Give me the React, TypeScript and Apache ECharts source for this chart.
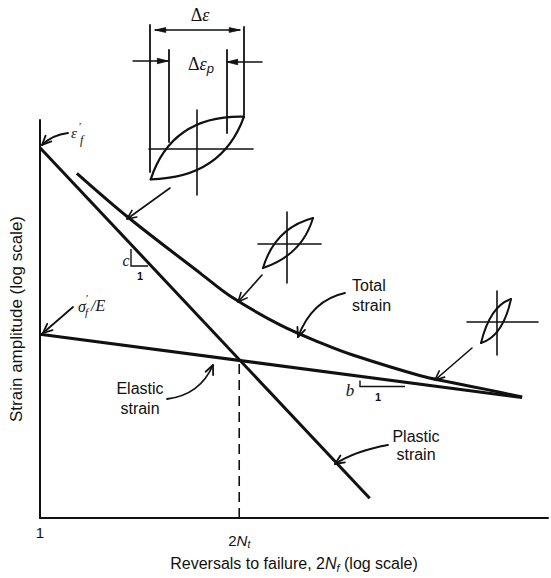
import React, { useEffect, useRef } from 'react';
import * as echarts from 'echarts';

// Coordinates: x = log(2N) in arbitrary decades from the origin "1"; y = log(strain amplitude) in arbitrary decades
const xTickValues = [0, 2];
const xTickLabels = ['1', '2N_t'];
const plasticX = [0, 3.31];
const plasticY = [3.75, 0.2];
const elasticX = [0, 4.84];
const elasticY = [1.86, 1.22];
const totalX = [0.37, 0.89, 1.62, 1.92, 2.42, 2.85, 3.14, 3.82, 4.12, 4.49, 4.84];
const totalY = [3.49, 3.04, 2.47, 2.24, 1.95, 1.76, 1.65, 1.44, 1.375, 1.3, 1.225];
const transitionX = [2.0, 2.0];
const transitionY = [0, 1.594];

const SANS = '"Liberation Sans", Arial, Helvetica, sans-serif';
const SERIF = '"Liberation Serif", "DejaVu Serif", serif';
const K = '#111';

function seg(x1: number, y1: number, x2: number, y2: number, w = 1.6): any {
  return { type: 'line', silent: true, shape: { x1, y1, x2, y2 }, style: { stroke: K, lineWidth: w, lineCap: 'round' } };
}
function head(tx: number, ty: number, fx: number, fy: number, len = 9, sp = 0.42, w = 1.6, filled = false): any {
  const a = Math.atan2(fy - ty, fx - tx);
  const p1 = [tx + len * Math.cos(a + sp), ty + len * Math.sin(a + sp)];
  const p2 = [tx + len * Math.cos(a - sp), ty + len * Math.sin(a - sp)];
  if (filled) {
    return { type: 'polygon', silent: true, shape: { points: [p1, [tx, ty], p2] }, style: { fill: K, stroke: K, lineWidth: 0.8 } };
  }
  return { type: 'polyline', silent: true, shape: { points: [p1, [tx, ty], p2] }, style: { stroke: K, lineWidth: w, fill: null, lineJoin: 'round', lineCap: 'round' } };
}
function arrow(fx: number, fy: number, tx: number, ty: number, w = 1.6, len = 9, sp = 0.42, filled = false): any[] {
  return [seg(fx, fy, tx, ty, w), head(tx, ty, fx, fy, len, sp, w, filled)];
}
function curve(x1: number, y1: number, cx: number, cy: number, x2: number, y2: number, w = 2): any {
  return { type: 'bezierCurve', silent: true, shape: { x1, y1, x2, y2, cpx1: cx, cpy1: cy }, style: { stroke: K, lineWidth: w, fill: null, lineCap: 'round' } };
}
function curvedArrow(x1: number, y1: number, cx: number, cy: number, x2: number, y2: number, w = 1.8): any[] {
  return [curve(x1, y1, cx, cy, x2, y2, w), head(x2, y2, cx, cy, 10, 0.42, w)];
}
function txt(x: number, y: number, text: string, o: any = {}): any {
  return {
    type: 'text', silent: true, x, y,
    style: {
      text, fill: K,
      fontFamily: o.fontFamily || SANS,
      fontSize: o.fontSize || 16,
      fontStyle: o.fontStyle || 'normal',
      fontWeight: o.fontWeight || 'normal',
      align: o.align || 'left',
      verticalAlign: o.verticalAlign || 'middle',
      lineHeight: o.lineHeight,
      rich: o.rich,
    },
  };
}

function buildGraphics(): any[] {
  const g: any[] = [];
  // ---- top hysteresis loop with Δε and Δεp dimensions
  g.push(seg(150, 25, 150, 172, 1.8));
  g.push(seg(244, 27, 244, 115, 1.8));
  g.push(seg(169, 50, 169, 142, 1.8));
  g.push(seg(227, 50, 227, 133, 1.8));
  g.push(seg(155, 30, 240, 30, 1.3));
  g.push(head(155, 30, 240, 30, 11, 0.22, 1.3, true));
  g.push(head(240, 30, 155, 30, 11, 0.22, 1.3, true));
  g.push(...arrow(133, 61, 168, 61, 1.4, 11, 0.25, true));
  g.push(...arrow(262, 62, 227, 62, 1.4, 11, 0.25, true));
  g.push(seg(149, 149, 253, 149, 1.6));
  g.push(seg(197, 110, 197, 195, 1.6));
  g.push(curve(150.7, 179.3, 172, 115, 244, 116.7, 2.2));
  g.push(curve(150.7, 179.3, 222, 178, 244, 116.7, 2.2));
  g.push(txt(200, 15, '{d|Δ}{e|ε}', { align: 'center', rich: {
    d: { fontFamily: SERIF, fontSize: 18, fill: K },
    e: { fontFamily: SERIF, fontSize: 18, fontStyle: 'italic', fill: K },
  } }));
  g.push(txt(188, 64, '{d|Δ}{e|ε}{p|p}', { align: 'left', rich: {
    d: { fontFamily: SERIF, fontSize: 18, fill: K },
    e: { fontFamily: SERIF, fontSize: 18, fontStyle: 'italic', fill: K },
    p: { fontFamily: SANS, fontSize: 13, fontStyle: 'italic', fill: K, padding: [9, 0, 0, 0] },
  } }));
  g.push(...arrow(170, 188, 127, 219, 1.6, 10, 0.42));

  // ---- middle loop
  g.push(seg(258, 244, 321, 244, 1.6));
  g.push(seg(287, 212, 287, 283, 1.6));
  g.push(curve(263, 268, 275, 228, 313, 218, 2));
  g.push(curve(263, 268, 302, 255, 313, 218, 2));
  g.push(...arrow(262, 275, 238, 302, 1.6, 10, 0.42));

  // ---- right loop
  g.push(seg(467, 322, 538, 322, 1.6));
  g.push(seg(497, 291, 497, 355, 1.6));
  g.push(curve(481, 343, 490, 306, 511, 299, 2));
  g.push(curve(481, 343, 503, 336, 511, 299, 2));
  g.push(...arrow(472, 348, 435, 380, 1.6, 10, 0.42));

  // ---- Labels with arrows
  g.push(txt(352, 295, 'Total\nstrain', { lineHeight: 20 }));
  g.push(...curvedArrow(345, 293, 312, 300, 298, 337));
  g.push(txt(140, 398, 'Elastic\nstrain', { align: 'center', lineHeight: 20 }));
  g.push(...curvedArrow(167, 399, 200, 395, 213, 365));
  g.push(txt(416, 445, 'Plastic\nstrain', { align: 'center', lineHeight: 18 }));
  g.push(...curvedArrow(388, 445, 355, 451, 335, 464));

  // ε'f
  g.push(...curvedArrow(68, 133, 52, 135, 42, 145));
  g.push(txt(71, 133, 'ε', { fontFamily: SERIF, fontSize: 15, fontStyle: 'italic' }));
  g.push(txt(79, 126, '′', { fontFamily: SERIF, fontSize: 11 }));
  g.push(txt(80, 140, 'f', { fontFamily: SERIF, fontSize: 12, fontStyle: 'italic' }));
  // σ'f/E
  g.push(...arrow(73, 307, 43, 333, 1.8, 10, 0.42));
  g.push(txt(78, 306, 'σ', { fontFamily: SERIF, fontSize: 16, fontStyle: 'italic' }));
  g.push(txt(86, 298, '′', { fontFamily: SERIF, fontSize: 11 }));
  g.push(txt(85, 312, 'f', { fontFamily: SERIF, fontSize: 11, fontStyle: 'italic' }));
  g.push(txt(91, 305, '/E', { fontFamily: SERIF, fontSize: 16, fontStyle: 'italic' }));

  // slope triangles
  g.push({ type: 'polyline', silent: true, shape: { points: [[131, 249], [131, 266], [148, 266]] }, style: { stroke: K, lineWidth: 1.4, fill: null } });
  g.push(txt(126, 260, 'c', { fontFamily: SERIF, fontSize: 16, fontStyle: 'italic', align: 'center' }));
  g.push(txt(140, 276, '1', { fontSize: 11, fontWeight: 'bold', align: 'center' }));
  g.push({ type: 'polyline', silent: true, shape: { points: [[360, 380.5], [360, 386.5], [405, 386.5]] }, style: { stroke: K, lineWidth: 1.4, fill: null } });
  g.push(txt(350, 390, 'b', { fontFamily: SERIF, fontSize: 17, fontStyle: 'italic', align: 'center' }));
  g.push(txt(378, 397, '1', { fontSize: 11, fontWeight: 'bold', align: 'center' }));
  return g;
}

export default function App() {
  const ref = useRef<HTMLDivElement>(null);
  useEffect(() => {
    if (!ref.current) return;
    const chart = echarts.init(ref.current, null, { renderer: 'svg' });
    const pair = (xs: number[], ys: number[]) => xs.map((x, i) => [x, ys[i]]);
    const lineCommon = { type: 'line', symbol: 'none', silent: true, z: 3 };
    chart.setOption({
      animation: false,
      backgroundColor: '#ffffff',
      grid: { left: 38, top: 120, width: 510, height: 403, containLabel: false },
      xAxis: {
        type: 'value', min: 0, max: 5.1, interval: 1,
        axisLine: { show: true, onZero: false, lineStyle: { color: K, width: 2 } },
        axisTick: { show: false },
        splitLine: { show: false },
        axisLabel: {
          margin: 7, showMinLabel: true, showMaxLabel: false, color: K,
          fontFamily: SANS, fontSize: 15,
          formatter: (v: number) => {
            const i = xTickValues.indexOf(v);
            if (i < 0) return '';
            const s = xTickLabels[i];
            if (s.includes('_')) {
              const [a, b] = s.split('_');
              return '{sp| }\n{n|' + a.slice(0, -1) + '}{i|' + a.slice(-1) + '}{s|' + b + '}';
            }
            return '{n|' + s + '}';
          },
          rich: {
            sp: { fontSize: 2, lineHeight: 7 },
            n: { fontFamily: SANS, fontSize: 15, color: K },
            i: { fontFamily: SANS, fontSize: 15, fontStyle: 'italic', color: K },
            s: { fontFamily: SANS, fontSize: 10, fontStyle: 'italic', color: K, padding: [7, 0, 0, 0] },
          },
        },
        name: 'Reversals to failure, 2{i|N}{s|f} (log scale)',
        nameLocation: 'middle', nameGap: 36,
        nameTextStyle: {
          fontFamily: SANS, fontSize: 16, color: K,
          rich: {
            i: { fontFamily: SANS, fontSize: 16, fontStyle: 'italic', color: K },
            s: { fontFamily: SANS, fontSize: 11, fontStyle: 'italic', color: K, padding: [8, 0, 0, 0] },
          },
        },
      },
      yAxis: {
        type: 'value', min: 0, max: 4.03,
        axisLine: { show: true, onZero: false, lineStyle: { color: K, width: 2 } },
        axisTick: { show: false },
        axisLabel: { show: false },
        splitLine: { show: false },
        name: 'Strain amplitude (log scale)',
        nameLocation: 'middle', nameRotate: 90, nameGap: 15,
        nameTextStyle: { fontFamily: SANS, fontSize: 17, color: K },
      },
      graphic: buildGraphics(),
      series: [
        { ...lineCommon, name: 'Plastic strain', data: pair(plasticX, plasticY), lineStyle: { color: K, width: 3 } },
        { ...lineCommon, name: 'Elastic strain', data: pair(elasticX, elasticY), lineStyle: { color: K, width: 3 } },
        { ...lineCommon, name: 'Total strain', data: pair(totalX, totalY), smooth: 0.35, lineStyle: { color: K, width: 3 } },
        { ...lineCommon, name: '2Nt', data: pair(transitionX, transitionY), lineStyle: { color: K, width: 1.6, type: [10, 6] } },
      ],
    });
    return () => chart.dispose();
  }, []);
  return <div ref={ref} style={{ position: 'fixed', left: 0, top: 0, width: 551, height: 578, background: '#fff' }} />;
}
